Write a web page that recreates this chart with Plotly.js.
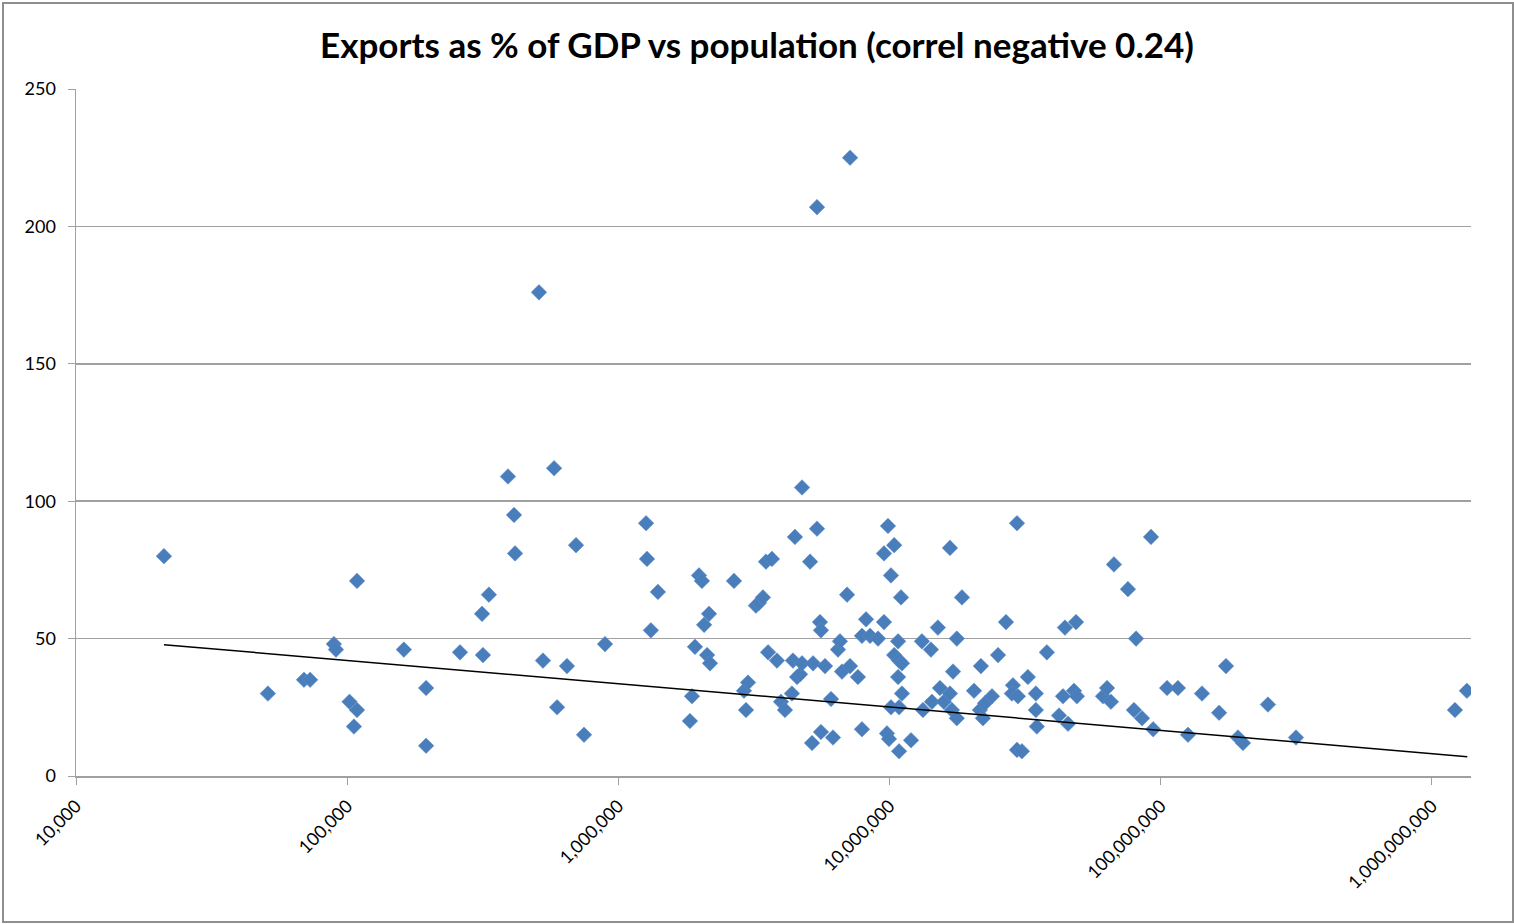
<!DOCTYPE html>
<html>
<head>
<meta charset="utf-8">
<script src="https://cdn.plot.ly/plotly-3.0.1.min.js"></script>
<style>
  html, body { margin: 0; padding: 0; background: #fff; }
  #wrap { position: relative; width: 1514px; height: 924px; }
  #chart { width: 1514px; height: 924px; }
  #frame {
    position: absolute; left: 2px; top: 2px; width: 1508px; height: 917px;
    border: 2px solid #8e8e8e; pointer-events: none;
  }
</style>
</head>
<body>
<div id="wrap">
  <div id="chart"></div>
  <div id="frame"></div>
</div>
<script>
// population (x) and exports as % of GDP (y)
const population = [
  21100, 51000, 69300, 73000, 89300, 90900, 102000, 105900, 108700, 108700,
  161800, 195400, 195400, 260600, 316700, 314200, 333100, 391600, 412300, 415900,
  509600, 527200, 579300, 594300, 646300, 698000, 747000, 892700, 1265000, 1275000,
  1318000, 1399000, 1836000, 1868000, 1916000, 1983000, 2033000, 2071000, 2124000, 2159000,
  2177000, 2669000, 2905000, 2955000, 3006000, 3215000, 3298000, 3412000, 3501000, 3564000,
  3683000, 3843000, 3978000, 4114000, 4365000, 4403000, 4478000, 4560000, 4677000, 4755000,
  4755000, 5092000, 5177000, 5223000, 5400000, 5400000, 5538000, 5585000, 5585000, 5780000,
  6083000, 6185000, 6454000, 6560000, 6677000, 6970000, 7150000, 7150000, 7646000, 7910000,
  7910000, 8189000, 8475000, 9067000, 9537000, 9537000, 9782000, 9950000, 9867000, 10120000,
  10120000, 10400000, 10400000, 10750000, 10750000, 10840000, 10840000, 10840000, 11020000, 11110000,
  11110000, 12000000, 13160000, 13280000, 14210000, 14330000, 15070000, 15340000, 15850000, 16700000,
  16700000, 16980000, 17140000, 17700000, 17700000, 18490000, 20480000, 21720000, 21530000, 22090000,
  22480000, 23860000, 25120000, 26870000, 28510000, 28250000, 29500000, 29740000, 29500000, 30760000,
  32360000, 34630000, 34630000, 34920000, 38020000, 42150000, 43600000, 44330000, 45500000, 47860000,
  48700000, 49070000, 61240000, 63370000, 65510000, 67200000, 75680000, 79620000, 81080000, 85320000,
  92060000, 93760000, 105500000, 115700000, 126000000, 141900000, 164100000, 174000000, 192600000, 201000000,
  248400000, 315300000, 1216000000, 1345000000
];
const exportsPct = [
  80, 30, 35, 35, 48, 46, 27, 18, 24, 71,
  46, 32, 11, 45, 44, 59, 66, 109, 95, 81,
  176, 42, 112, 25, 40, 84, 15, 48, 92, 79,
  53, 67, 20, 29, 47, 73, 71, 55, 44, 59,
  41, 71, 31, 24, 34, 62, 63, 65, 78, 45,
  79, 42, 27, 24, 30, 42, 87, 36, 37, 41,
  105, 78, 12, 41, 207, 90, 56, 53, 16, 40,
  28, 14, 46, 49, 38, 66, 40, 225, 36, 17,
  51, 57, 51, 50, 56, 81, 15.5, 13.5, 91, 73,
  25, 84, 44, 49, 36, 25, 9, 42, 65, 41,
  30, 13, 49, 24, 46, 27, 54, 32, 27, 30,
  83, 24, 38, 50, 21, 65, 31, 40, 24, 21,
  26.5, 29, 44, 56, 33, 30, 92, 29, 9.5, 9,
  36, 30, 24, 18, 45, 22, 29, 54, 19, 31,
  56, 29, 29, 32, 27, 77, 68, 24, 50, 21,
  87, 17, 32, 32, 15, 30, 23, 40, 14, 12,
  26, 14, 24, 31
];

// trend line end points as drawn on the chart
const trendX = [21100, 1350000000];
const trendY = [47.8, 7.0];

const xTicks = [1e4, 1e5, 1e6, 1e7, 1e8, 1e9];
const xTickText = ["10,000", "100,000", "1,000,000", "10,000,000", "100,000,000", "1,000,000,000"];
const yTicks = [0, 50, 100, 150, 200, 250];

const FONT = "Lato, 'Open Sans', sans-serif";
const GRID = "#a0a0a0";

const pointsTrace = {
  type: "scatter",
  mode: "markers",
  x: population,
  y: exportsPct,
  marker: {
    symbol: "diamond",
    size: 12,
    color: "#4a7ebb",
    line: { width: 0.5, color: "#5b8ccc" },
  },
  hovertemplate: "%{x:,}<br>%{y}<extra></extra>",
};

const trendTrace = {
  type: "scatter",
  mode: "lines",
  x: trendX,
  y: trendY,
  line: { color: "#000", width: 1.5 },
  hoverinfo: "skip",
};

const layout = {
  width: 1514,
  height: 924,
  margin: { l: 76, r: 43, t: 89, b: 148 },
  paper_bgcolor: "#fff",
  plot_bgcolor: "#fff",
  showlegend: false,
  font: { family: FONT, color: "#000", size: 18 },
  title: {
    text: "<b>Exports as % of GDP vs population (correl negative 0.24)</b>",
    font: { family: FONT, size: 35, color: "#000" },
    x: 0.5,
    xref: "container",
    xanchor: "center",
    y: 1 - 46 / 924,
    yref: "container",
    yanchor: "middle",
  },
  xaxis: {
    type: "log",
    range: [4, 9.144],
    tickmode: "array",
    tickvals: xTicks,
    ticktext: xTickText,
    tickangle: -45,
    ticks: "outside",
    ticklen: 7,
    tickcolor: GRID,
    ticklabelstandoff: 4,
    showline: true,
    linecolor: GRID,
    linewidth: 1.5,
    showgrid: false,
    zeroline: false,
    tickfont: { family: FONT, size: 18, color: "#000" },
  },
  yaxis: {
    range: [0, 250],
    tickmode: "array",
    tickvals: yTicks,
    ticks: "outside",
    ticklen: 7,
    tickcolor: GRID,
    ticklabelstandoff: 8,
    showline: true,
    linecolor: GRID,
    linewidth: 1.5,
    showgrid: true,
    gridcolor: GRID,
    gridwidth: 1.5,
    zeroline: false,
    tickfont: { family: FONT, size: 18, color: "#000" },
  },
  dragmode: false,
};

Plotly.newPlot("chart", [pointsTrace, trendTrace], layout, {
  displayModeBar: false,
  responsive: false,
  staticPlot: true,
});
</script>
</body>
</html>
